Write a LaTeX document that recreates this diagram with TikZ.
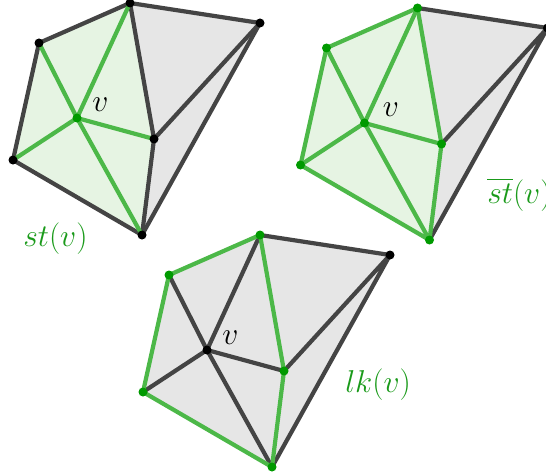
\documentclass[tikz,border=0pt]{standalone}
\usepackage{amsmath}
\usepackage{tikz}
\usetikzlibrary{calc,positioning}
\definecolor{cxgreen}{HTML}{4CB848}
\definecolor{cxdotgreen}{HTML}{009A00}
\definecolor{cxlabel}{HTML}{1A9A1A}
\definecolor{cxstfill}{HTML}{E6F4E3}
\definecolor{cxgray}{HTML}{E6E6E6}
\definecolor{cxedge}{HTML}{444444}

\begin{document}
\begin{tikzpicture}[
  x=1pt, y=-1pt,
  plain edge/.style={draw=cxedge, line width=4.2pt, line cap=round, line join=round},
  star edge/.style={draw=cxgreen, line width=4.2pt, line cap=round, line join=round},
  cell fill/.style={fill=cxgray},
  star fill/.style={fill=cxstfill},
  black dot/.style={circle, fill=black, minimum size=9pt, inner sep=0pt},
  green dot/.style={black dot, fill=cxdotgreen},
  vlabel/.style={font=\fontsize{24}{29}\selectfont, scale=1.27, transform shape,
                 anchor=base west, inner sep=0pt},
  setlabel/.style={vlabel, text=cxlabel},
]
  \useasboundingbox (0,0) rectangle (546,476);

  % #1 prefix, #2 x shift, #3 y shift
  \newcommand{\cxpoints}[3]{%
    \begin{scope}[shift={(#2,#3)}]
      \coordinate (#1-v) at (77,118);
      \coordinate (#1-a) at (39,43);
      \coordinate (#1-b) at (130,3);
      \coordinate (#1-c) at (260,23);
      \coordinate (#1-d) at (13,160);
      \coordinate (#1-e) at (154,139);
      \coordinate (#1-f) at (142,235);
    \end{scope}%
  }
  \cxpoints{st}{0}{0}
  \cxpoints{cl}{287.5}{5}
  \cxpoints{lk}{130}{232}

  % Star of v.
  \fill[cell fill] (st-b) -- (st-c) -- (st-f) -- (st-e) -- cycle;
  \fill[star fill] (st-a) -- (st-b) -- (st-e) -- (st-f) -- (st-d) -- cycle;
  \draw[plain edge] (st-d) -- (st-a) -- (st-b) -- (st-c) -- (st-f) -- (st-d);
  \draw[plain edge] (st-b) -- (st-e) -- (st-f) (st-e) -- (st-c);
  \foreach \p in {a,b,d,e,f} {
    \draw[star edge] (st-v) -- (st-\p);
  }
  \foreach \p in {a,b,c,d,e,f} {
    \node[black dot] (st-\p-dot) at (st-\p) {};
  }
  \node[green dot] (st-v-dot) at (st-v) {};
  \node[vlabel] (st-v-text) at ($(st-v)+(15,-6)$) {$v$};
  \node[setlabel] (st-name) at (23,246) {$st(v)$};

  % Closed star of v.
  \fill[cell fill] (cl-b) -- (cl-c) -- (cl-f) -- (cl-e) -- cycle;
  \fill[star fill] (cl-a) -- (cl-b) -- (cl-e) -- (cl-f) -- (cl-d) -- cycle;
  \draw[plain edge] (cl-b) -- (cl-c) -- (cl-f) (cl-e) -- (cl-c);
  \draw[star edge] (cl-a) -- (cl-b) -- (cl-e) -- (cl-f) -- (cl-d) -- cycle;
  \foreach \p in {a,b,d,e,f} {
    \draw[star edge] (cl-v) -- (cl-\p);
  }
  \node[black dot] (cl-c-dot) at (cl-c) {};
  \foreach \p in {v,a,b,d,e,f} {
    \node[green dot] (cl-\p-dot) at (cl-\p) {};
  }
  \node[vlabel] (cl-v-text) at ($(cl-v)+(18,-6)$) {$v$};
  \node[setlabel] (cl-name) at (487,203) {$\overline{st}(v)$};

  % Link of v.
  \fill[cell fill] (lk-a) -- (lk-b) -- (lk-c) -- (lk-f) -- (lk-d) -- cycle;
  \draw[plain edge] (lk-b) -- (lk-c) -- (lk-f) (lk-e) -- (lk-c);
  \foreach \p in {a,b,d,e,f} {
    \draw[plain edge] (lk-v) -- (lk-\p);
  }
  \draw[star edge] (lk-a) -- (lk-b) -- (lk-e) -- (lk-f) -- (lk-d) -- cycle;
  \foreach \p in {v,c} {
    \node[black dot] (lk-\p-dot) at (lk-\p) {};
  }
  \foreach \p in {a,b,d,e,f} {
    \node[green dot] (lk-\p-dot) at (lk-\p) {};
  }
  \node[vlabel] (lk-v-text) at ($(lk-v)+(15,-6)$) {$v$};
  \node[setlabel] (lk-name) at (345,392) {$lk(v)$};
\end{tikzpicture}
\end{document}
